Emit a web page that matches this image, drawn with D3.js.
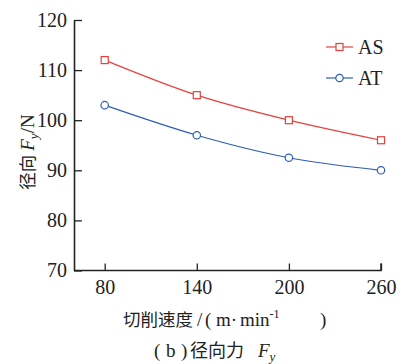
<!DOCTYPE html>
<html>
<head>
<meta charset="utf-8">
<script src="https://cdn.jsdelivr.net/npm/d3@7"></script>
<style>
  body { margin:0; background:#fff; }
  text { fill:#222; }
</style>
</head>
<body>
<div id="chart"></div>
<script>
var speeds = [80, 140, 200, 260];
var asValues = [112, 105, 100, 96];
var atValues = [103, 97, 92.5, 90];
var yTicks = [70, 80, 90, 100, 110, 120];
var series = [
  {name: "AS", values: asValues, color: "#e8413c", shape: "square"},
  {name: "AT", values: atValues, color: "#2f5db3", shape: "circle"}
];

var SERIF = "'Liberation Serif', 'Times New Roman', Times, serif";
var CJK = "'Noto Sans CJK SC', sans-serif";

var W = 405, H = 364;
var svg = d3.select("#chart").append("svg").attr("width", W).attr("height", H);

var x = d3.scaleLinear().domain([60, 260]).range([74, 381]);
var y = d3.scaleLinear().domain([70, 120]).range([270.5, 20]);

// axes, ticks pointing inward
var yAxis = d3.axisLeft(y).tickValues(yTicks).tickSizeInner(-8).tickSizeOuter(0).tickPadding(7);
var xAxis = d3.axisBottom(x).tickValues(speeds).tickSizeInner(-7).tickSizeOuter(0).tickPadding(9);

var gy = svg.append("g").attr("transform", "translate(" + x.range()[0] + ",0)").call(yAxis);
var gx = svg.append("g").attr("transform", "translate(0," + y.range()[0] + ")").call(xAxis);
[gx, gy].forEach(function(g){
  g.attr("font-family", SERIF).attr("font-size", 20);
  g.select(".domain").attr("stroke", "#222").attr("stroke-width", 1.6);
  g.selectAll(".tick line").attr("stroke", "#222").attr("stroke-width", 1.3);
  g.selectAll(".tick text").attr("fill", "#222").style("font-family", SERIF);
});
gx.select(".domain").attr("d", "M" + x.range()[0] + ",0H" + x.range()[1] + "V-7");

var line = d3.line()
  .x(function(d, i){ return x(speeds[i]); })
  .y(function(d){ return y(d); })
  .curve(d3.curveMonotoneX);

series.forEach(function(s){
  svg.append("path").datum(s.values)
    .attr("d", line).attr("fill", "none")
    .attr("stroke", s.color).attr("stroke-width", 1.2);
  var pts = svg.selectAll(".pt-" + s.name).data(s.values).enter();
  if (s.shape == "square") {
    pts.append("rect")
      .attr("x", function(d, i){ return x(speeds[i]) - 3.5; })
      .attr("y", function(d){ return y(d) - 3.5; })
      .attr("width", 7).attr("height", 7)
      .attr("fill", "#fff").attr("stroke", s.color).attr("stroke-width", 1.2);
  } else {
    pts.append("circle")
      .attr("cx", function(d, i){ return x(speeds[i]); })
      .attr("cy", function(d){ return y(d); })
      .attr("r", 3.7)
      .attr("fill", "#fff").attr("stroke", s.color).attr("stroke-width", 1.2);
  }
});

// legend
var lg = svg.append("g").attr("transform", "translate(326,47)");
series.forEach(function(s, i){
  var g = lg.append("g").attr("transform", "translate(0," + (i * 31) + ")");
  g.append("line").attr("x1", 0).attr("x2", 27).attr("y1", 0).attr("y2", 0)
    .attr("stroke", s.color).attr("stroke-width", 1.2);
  if (s.shape == "square") {
    g.append("rect").attr("x", 10).attr("y", -3.5).attr("width", 7).attr("height", 7)
      .attr("fill", "#fff").attr("stroke", s.color).attr("stroke-width", 1.2);
  } else {
    g.append("circle").attr("cx", 13.5).attr("cy", 0).attr("r", 3.7)
      .attr("fill", "#fff").attr("stroke", s.color).attr("stroke-width", 1.2);
  }
  g.append("text").attr("x", 32).attr("y", 6.5).attr("font-size", 20)
    .style("font-family", SERIF).text(s.name);
});

// y axis label
var yl = svg.append("text")
  .attr("transform", "translate(34,152) rotate(-90)")
  .attr("text-anchor", "middle").attr("font-size", 19).style("font-family", SERIF);
yl.append("tspan").style("font-family", CJK).attr("font-size", 17.5).text("径向 ");
yl.append("tspan").attr("font-style", "italic").text("F");
yl.append("tspan").attr("font-style", "italic").attr("font-size", 13).attr("dy", 4).text("y");
yl.append("tspan").attr("dy", -4).text("/N");

// x axis label
var xl = svg.append("text").attr("x", 123).attr("y", 326).attr("font-size", 19)
  .style("font-family", SERIF);
xl.append("tspan").style("font-family", CJK).attr("font-size", 17.5).text("切削速度");
xl.append("tspan").attr("x", 197).text("/");
xl.append("tspan").attr("x", 205).text("(");
xl.append("tspan").attr("x", 216).text("m·");
xl.append("tspan").attr("x", 240).text("min");
xl.append("tspan").attr("font-size", 12).attr("dy", -8).text("-1");
xl.append("tspan").attr("x", 320).attr("dy", 8).text(")");

// caption
var cap = svg.append("text").attr("x", 154).attr("y", 357).attr("font-size", 19)
  .style("font-family", SERIF);
cap.append("tspan").text("(");
cap.append("tspan").attr("x", 166).text("b");
cap.append("tspan").attr("x", 181).text(")");
cap.append("tspan").attr("x", 190).style("font-family", CJK).attr("font-size", 18).text("径向力");
cap.append("tspan").attr("x", 258).attr("font-style", "italic").text("F");
cap.append("tspan").attr("font-style", "italic").attr("font-size", 13).attr("dy", 4).text("y");
</script>
</body>
</html>
